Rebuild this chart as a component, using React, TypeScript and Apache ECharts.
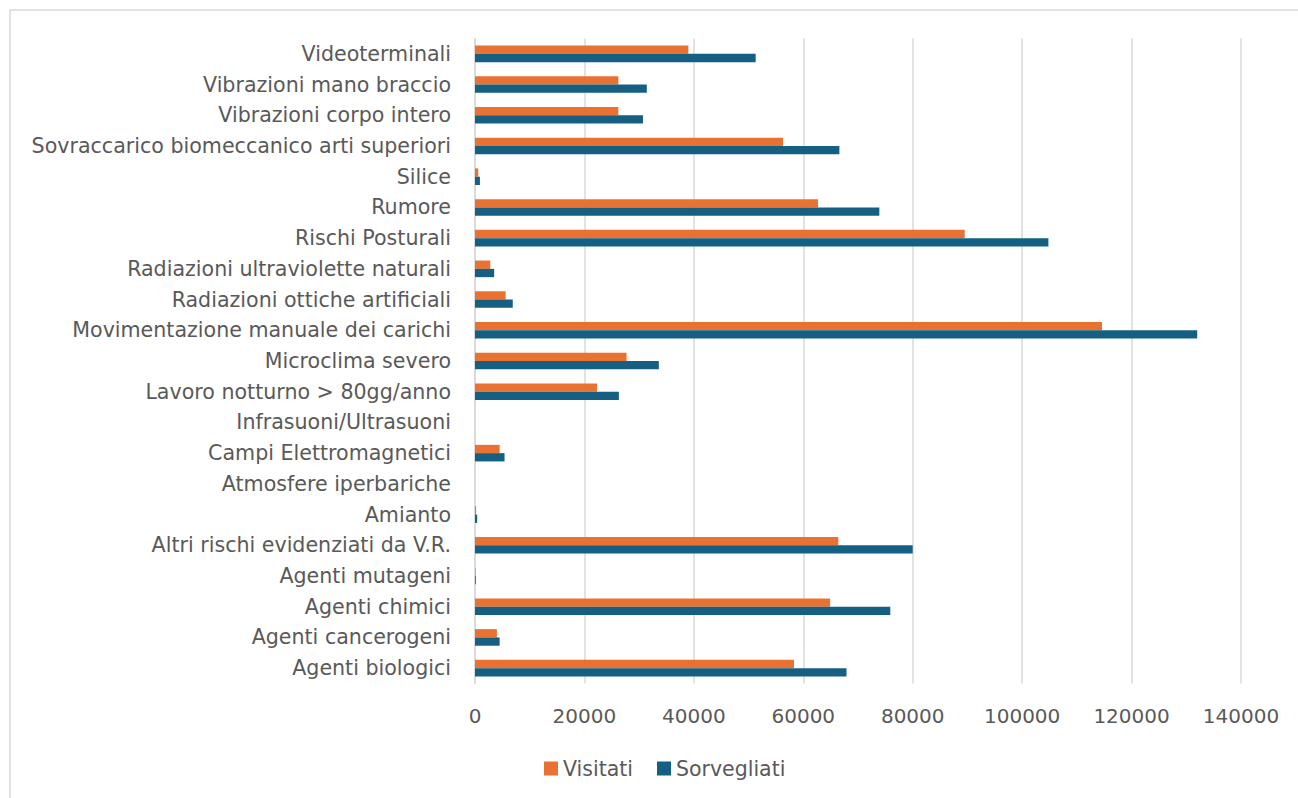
import React, { useEffect, useRef } from "react";
import * as echarts from "echarts";

const categories = [
  "Agenti biologici",
  "Agenti cancerogeni",
  "Agenti chimici",
  "Agenti mutageni",
  "Altri rischi evidenziati da V.R.",
  "Amianto",
  "Atmosfere iperbariche",
  "Campi Elettromagnetici",
  "Infrasuoni/Ultrasuoni",
  "Lavoro notturno > 80gg/anno",
  "Microclima severo",
  "Movimentazione manuale dei carichi",
  "Radiazioni ottiche artificiali",
  "Radiazioni ultraviolette naturali",
  "Rischi Posturali",
  "Rumore",
  "Silice",
  "Sovraccarico biomeccanico arti superiori",
  "Vibrazioni corpo intero",
  "Vibrazioni mano braccio",
  "Videoterminali",
];

const visitati = [
  58300, 4000, 64900, 100, 66400, 200, 0, 4500, 0, 22300, 27700, 114600, 5600,
  2800, 89500, 62700, 600, 56300, 26200, 26200, 39000,
];

const sorvegliati = [
  67900, 4500, 75900, 150, 80000, 400, 0, 5400, 0, 26300, 33600, 132000, 6900,
  3500, 104800, 73900, 900, 66600, 30700, 31400, 51300,
];

const seriesNames = ["Visitati", "Sorvegliati"];
const colors = ["#E97132", "#156082"];

export default function App() {
  const ref = useRef<HTMLDivElement>(null);
  useEffect(() => {
    if (!ref.current) return;
    const chart = echarts.init(ref.current, null, { renderer: "svg" });
    const font = "DejaVu Sans";
    chart.setOption({
      animation: false,
      backgroundColor: "#ffffff",
      graphic: [
        {
          type: "rect",
          shape: { x: 10, y: 10, width: 1300, height: 800 },
          style: { fill: "none", stroke: "#d9d9d9", lineWidth: 1.5 },
          silent: true,
        },
      ],
      grid: { left: 475, right: 57, top: 38.5, bottom: 114.5, containLabel: false },
      legend: {
        data: seriesNames,
        top: 753,
        left: 539,
        itemWidth: 14,
        itemHeight: 14,
        itemGap: 24,
        icon: "rect",
        textStyle: { color: "#595959", fontSize: 20.5, fontFamily: font },
      },
      xAxis: {
        type: "value",
        min: 0,
        max: 140000,
        interval: 20000,
        axisLine: { show: false },
        axisTick: { show: false },
        splitLine: { show: true, lineStyle: { color: "#d9d9d9", width: 1.5 } },
        axisLabel: {
          color: "#595959",
          fontSize: 20,
          fontFamily: font,
          margin: 22,
          formatter: (v: number) => String(v),
        },
      },
      yAxis: {
        type: "category",
        data: categories,
        axisLine: { show: true, lineStyle: { color: "#d9d9d9", width: 1.5 } },
        axisTick: { show: false },
        axisLabel: { color: "#595959", fontSize: 20.6, fontFamily: font, margin: 24, interval: 0 },
      },
      series: [
        {
          name: seriesNames[0],
          type: "bar",
          data: visitati,
          barWidth: 8.3,
          barGap: "0%",
          itemStyle: { color: colors[0] },
        },
        {
          name: seriesNames[1],
          type: "bar",
          data: sorvegliati,
          barWidth: 8.3,
          barGap: "0%",
          itemStyle: { color: colors[1] },
        },
      ],
    });
    return () => chart.dispose();
  }, []);
  return (
    <div
      ref={ref}
      style={{ position: "fixed", left: 0, top: 0, width: 1298, height: 798 }}
    />
  );
}
